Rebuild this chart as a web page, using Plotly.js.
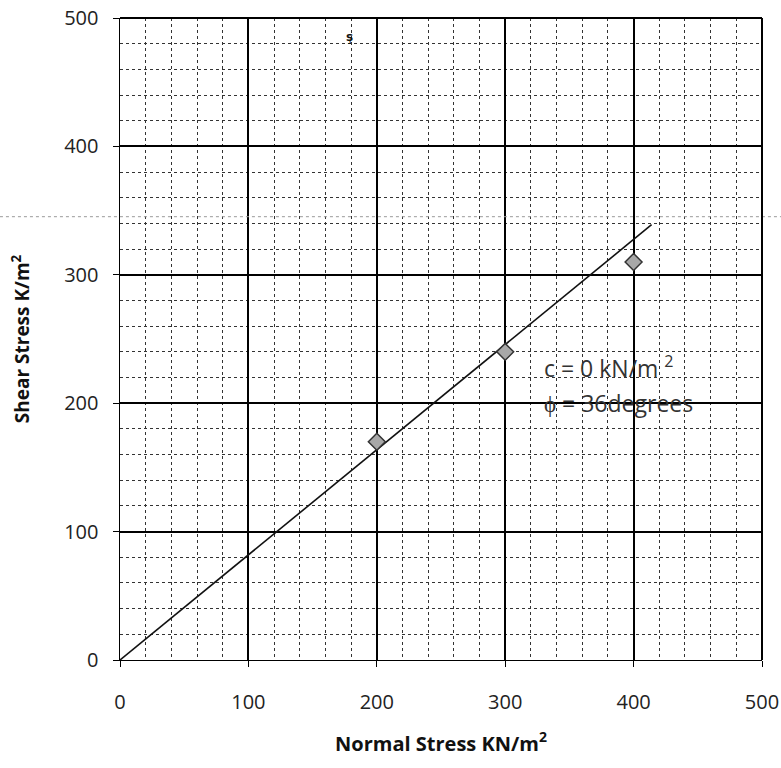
<!DOCTYPE html>
<html>
<head>
<meta charset="utf-8">
<script src="https://cdn.plot.ly/plotly-3.0.1.min.js"></script>
<style>html,body{margin:0;padding:0;background:#fff;}#chart{width:781px;height:768px;}</style>
</head>
<body>
<div id="chart"></div>
<script>
// Measured test points
const normalStress = [200, 300, 400];
const shearStress = [170, 240, 310];
// Drawn failure envelope (start and end)
const envelopeX = [0, 414];
const envelopeY = [0, 339];
const tickVals = [0, 100, 200, 300, 400, 500];
const tickText = ['0', '100', '200', '300', '400', '500'];
const noteLine1 = 'c = 0 kN/m <sup>2</sup>';
const noteLine2 = '\u03D5 = 36degrees';

const traces = [
  {
    x: envelopeX, y: envelopeY, mode: 'lines', type: 'scatter',
    line: {color: '#111', width: 1.6}, hoverinfo: 'skip', showlegend: false
  },
  {
    x: normalStress, y: shearStress, mode: 'markers', type: 'scatter',
    marker: {symbol: 'diamond', size: 13, color: '#a8a8a8', line: {color: '#333', width: 1.5}},
    showlegend: false
  }
];

const axisCommon = {
  range: [0, 500], tickvals: tickVals, ticktext: tickText,
  showgrid: true, gridcolor: '#000', gridwidth: 2,
  ticks: 'outside', ticklen: 6, tickcolor: '#000', tickwidth: 1,
  tickfont: {family: 'Open Sans', size: 20, color: '#222'},
  minor: {dtick: 20, showgrid: true, gridcolor: '#333', gridwidth: 1, griddash: 'dot', ticks: ''},
  zeroline: false, fixedrange: true
};

const layout = {
  width: 781, height: 768,
  margin: {l: 120, r: 19, t: 18, b: 108},
  paper_bgcolor: '#fff', plot_bgcolor: '#fff',
  xaxis: Object.assign({}, axisCommon, {
    showline: true, linecolor: '#000', linewidth: 1, mirror: false,
    ticklabelstandoff: 18,
    title: {text: 'Normal Stress KN/m<sup>2</sup>', font: {family: 'Open Sans', size: 20, color: '#111', weight: 'bold'}, standoff: 22}
  }),
  yaxis: Object.assign({}, axisCommon, {
    showline: true, linecolor: '#000', linewidth: 1.5,
    ticklabelstandoff: 10,
    title: {text: 'Shear Stress K/m<sup>2</sup>', font: {family: 'Open Sans', size: 19, color: '#111', weight: 'bold'}, standoff: 29}
  }),
  shapes: [
    {type: 'line', xref: 'paper', yref: 'paper', x0: -0.187, x1: 1.03, y0: 0.6905, y1: 0.6905,
     line: {color: '#9a9a9a', width: 1, dash: 'dot'}, layer: 'above'},
    {type: 'line', xref: 'paper', yref: 'paper', x0: 1, x1: 1, y0: 0, y1: 1,
     line: {color: '#000', width: 2}, layer: 'above'},
    {type: 'line', xref: 'paper', yref: 'paper', x0: 0, x1: 1, y0: 1, y1: 1,
     line: {color: '#000', width: 2}, layer: 'above'}
  ],
  annotations: [
    {x: 329, y: 228, xref: 'x', yref: 'y', text: noteLine1, showarrow: false, xanchor: 'left', yanchor: 'middle',
     font: {family: 'Open Sans', size: 23, color: '#333'}},
    {x: 329, y: 200, xref: 'x', yref: 'y', text: noteLine2, showarrow: false, xanchor: 'left', yanchor: 'middle',
     font: {family: 'Open Sans', size: 23, color: '#333'}},
    {x: 179, y: 485, xref: 'x', yref: 'y', text: '\u015F', showarrow: false,
     font: {family: 'DejaVu Sans', size: 12, color: '#111', weight: 'bold'}}
  ]
};

Plotly.newPlot('chart', traces, layout, {displayModeBar: false, staticPlot: true});
</script>
</body>
</html>
